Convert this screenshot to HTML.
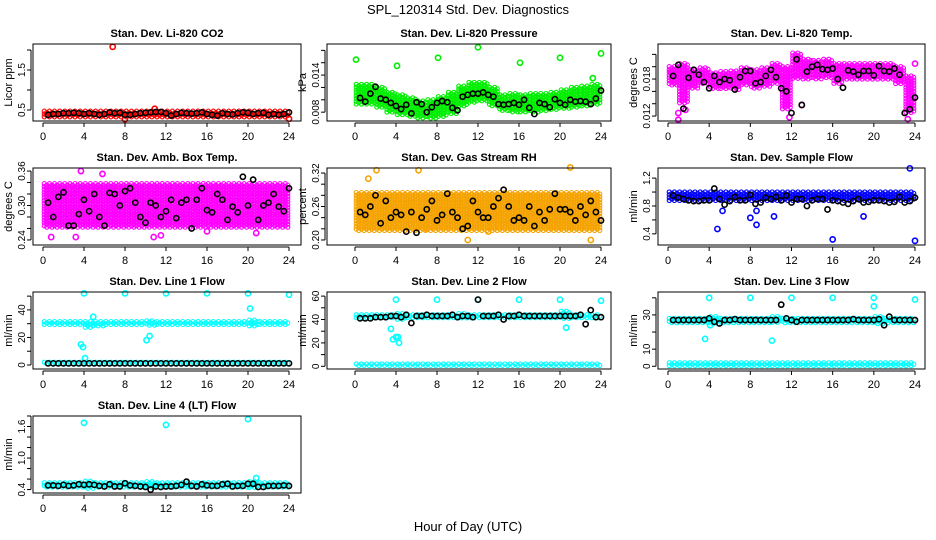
<!DOCTYPE html>
<html><head><meta charset="utf-8"><style>
body{margin:0;background:#fff}
svg{display:block;font-family:"Liberation Sans",Arial,sans-serif}
</style></head><body>
<svg id="chart" width="936" height="540" viewBox="0 0 936 540">
<text x="468" y="14" text-anchor="middle" font-size="13">SPL_120314  Std. Dev. Diagnostics</text>
<text x="468" y="531" text-anchor="middle" font-size="13">Hour of Day (UTC)</text>
</svg>
<script>
// ---------- data ----------
const hourTicks=[0,4,8,12,16,20,24];
const p1Lo=[.33,.33,.33,.33,.33,.33,.33,.33,.33,.33,.33,.33,.33,.33,.33,.33,.33,.33,.33,.33,.33,.33,.33,.33];
const p1Hi=[.47,.47,.47,.47,.47,.47,.47,.47,.47,.47,.47,.47,.47,.47,.47,.47,.47,.47,.47,.47,.47,.47,.47,.47];
const p1OutX=[6.8,10.9,8,24];
const p1OutY=[2.08,0.53,0.27,0.28];
const p1Black=[0.38,0.40,0.40,0.42,0.42,0.43,0.42,0.40,0.42,0.40,0.38,0.40,0.44,0.42,0.43,0.38,0.38,0.40,0.42,0.43,0.44,0.45,0.45,0.42,0.36,0.40,0.43,0.42,0.41,0.42,0.44,0.40,0.38,0.36,0.42,0.40,0.39,0.42,0.44,0.43,0.40,0.42,0.43,0.38,0.40,0.38,0.40,0.44];

const p2Lo=[.0093,.0092,.0088,.0080,.0075,.0072,.0070,.0070,.0073,.0078,.0090,.0096,.0098,.0090,.0082,.0080,.0080,.0080,.0082,.0084,.0086,.0088,.0090,.0092];
const p2Hi=[.0125,.0125,.0120,.0112,.0108,.0103,.0098,.0100,.0105,.0112,.0122,.0128,.0128,.0120,.0108,.0110,.0108,.0110,.0110,.0112,.0116,.0120,.0122,.0125];
const p2OutX=[0.1,4.1,8.1,12,16.1,20,23.2,24];
const p2OutY=[0.0165,0.0155,0.0168,0.0185,0.0160,0.0168,0.0135,0.0175];
const p2Black=[0.0103,0.0097,0.0110,0.0121,0.0102,0.0100,0.0095,0.0090,0.0085,0.0092,0.0078,0.0096,0.0093,0.0080,0.0088,0.0095,0.0098,0.0096,0.0087,0.0083,0.0105,0.0108,0.0110,0.0110,0.0112,0.0108,0.0105,0.0093,0.0092,0.0093,0.0095,0.0092,0.0100,0.0087,0.0077,0.0095,0.0093,0.0088,0.0101,0.0095,0.0092,0.0100,0.0097,0.0098,0.0097,0.0093,0.0102,0.0115];

const p3Lo=[.0170,.0140,.0165,.0172,.0165,.0163,.0162,.0170,.0165,.0168,.0172,.0130,.0180,.0178,.0180,.0182,.0172,.0178,.0178,.0180,.0180,.0180,.0172,.0125];
const p3Hi=[.0200,.0205,.0195,.0198,.0190,.0192,.0193,.0198,.0195,.0198,.0205,.0200,.0222,.0212,.0210,.0212,.0205,.0205,.0205,.0205,.0205,.0205,.0200,.0185];
const p3OutX=[1.0,1.0,1.7,11.8,13.0,24.0,0.3,23.3];
const p3OutY=[0.0114,0.0125,0.0130,0.0118,0.0138,0.0205,0.0192,0.0115];
const p3Black=[0.0185,0.0203,0.0132,0.0182,0.0195,0.0187,0.0175,0.0165,0.0185,0.0175,0.0180,0.0178,0.0163,0.0183,0.0193,0.0193,0.0173,0.0175,0.0185,0.0195,0.0183,0.0165,0.0160,0.0125,0.0212,0.0138,0.0192,0.0200,0.0203,0.0196,0.0195,0.0197,0.0180,0.0166,0.0194,0.0192,0.0187,0.0193,0.0193,0.0186,0.0201,0.0193,0.0192,0.0197,0.0187,0.0125,0.0131,0.0150];

const p4Lo=[.262,.262,.262,.262,.262,.262,.262,.262,.262,.262,.262,.262,.262,.262,.262,.262,.262,.262,.262,.262,.262,.262,.262,.262];
const p4Hi=[.338,.338,.338,.338,.338,.338,.338,.338,.338,.338,.338,.338,.338,.338,.338,.338,.338,.338,.338,.338,.338,.338,.338,.338];
const p4OutX=[0.8,3.2,3.7,5.8,10.8,11.5,16.0,20.8];
const p4OutY=[0.245,0.245,0.36,0.355,0.245,0.248,0.255,0.252];
const p4Black=[0.305,0.28,0.315,0.323,0.265,0.265,0.285,0.31,0.29,0.32,0.28,0.265,0.322,0.32,0.30,0.325,0.33,0.305,0.28,0.27,0.305,0.30,0.28,0.29,0.31,0.278,0.305,0.31,0.26,0.31,0.33,0.292,0.288,0.32,0.31,0.275,0.298,0.288,0.35,0.30,0.345,0.275,0.30,0.305,0.32,0.298,0.29,0.33];

const p5Lo=[.215,.215,.215,.215,.215,.215,.215,.215,.215,.215,.215,.215,.215,.215,.215,.215,.215,.215,.215,.215,.215,.215,.215,.215];
const p5Hi=[.285,.285,.285,.285,.285,.285,.285,.285,.285,.285,.285,.285,.285,.285,.285,.285,.285,.285,.285,.285,.285,.285,.285,.285];
const p5OutX=[1.3,2.1,6.2,11.0,13.0,21.0,23.0,7.0];
const p5OutY=[0.31,0.325,0.325,0.20,0.215,0.33,0.20,0.22];
const p5Black=[0.25,0.245,0.26,0.28,0.23,0.27,0.24,0.25,0.245,0.215,0.25,0.213,0.24,0.255,0.27,0.235,0.245,0.283,0.25,0.24,0.22,0.225,0.27,0.25,0.24,0.24,0.26,0.275,0.29,0.26,0.235,0.24,0.235,0.26,0.225,0.25,0.235,0.255,0.283,0.255,0.255,0.25,0.235,0.26,0.245,0.27,0.25,0.235];

const p6Lo=[.87,.87,.87,.87,.87,.87,.87,.87,.87,.87,.87,.87,.87,.87,.87,.87,.87,.87,.87,.87,.87,.87,.87,.87];
const p6Hi=[1.0,1.0,1.0,1.0,1.0,1.0,1.0,1.0,1.0,1.0,1.0,1.0,1.0,1.0,1.0,1.0,1.0,1.0,1.0,1.0,1.0,1.0,1.0,1.0];
const p6OutX=[4.8,5.3,8.0,8.6,8.6,10.3,16.0,19.0,23.5,24.0];
const p6OutY=[0.47,0.73,0.63,0.53,0.73,0.65,0.32,0.65,1.34,0.30];
const p6Black=[0.95,0.92,0.90,0.88,0.87,0.87,0.88,0.88,1.05,0.90,0.82,0.87,0.93,0.88,0.88,0.96,0.83,0.85,0.92,0.90,0.93,0.88,0.95,0.85,0.90,0.90,0.80,0.88,0.90,0.90,0.75,0.88,0.87,0.85,0.83,0.87,0.90,0.85,0.86,0.88,0.88,0.87,0.85,0.86,0.93,0.85,0.87,0.92];

const p7Lo=[28.5,28.5,28.5,28.5,27,28,28.5,28.5,28.5,28.5,28,28.5,28.5,28.5,28.5,28.5,28.5,28.5,28.5,28.5,27.5,28.5,28.5,28.5];
const p7Hi=[31.5,31.5,31.5,31.5,31.5,31.5,31.5,31.5,31.5,31.5,32,31.5,31.5,31.5,31.5,31.5,31.5,31.5,31.5,31.5,32.5,31.5,31.5,31.5];
const p7Lo2=[0,0,0,0,0,0,0,0,0,0,0,0,0,0,0,0,0,0,0,0,0,0,0,0];
const p7Hi2=[2,2,2,2,2,2,2,2,2,2,2,2,2,2,2,2,2,2,2,2,2,2,2,2];
const p7OutX=[4,8,12,16,20,24,3.7,3.9,4.1,10.1,10.4,20.2,4.9];
const p7OutY=[52,52,52,52,52,51,15,13,5,18,21,41,35];
const p7Black=[1.2,1.2,1.2,1.2,1.2,1.2,1.2,1.2,1.2,1.2,1.2,1.2,1.2,1.2,1.2,1.2,1.2,1.2,1.2,1.2,1.2,1.2,1.2,1.2,1.2,1.2,1.2,1.2,1.2,1.2,1.2,1.2,1.2,1.2,1.2,1.2,1.2,1.2,1.2,1.2,1.2,1.2,1.2,1.2,1.2,1.2,1.2,1.2];

const p8Lo=[41,41,41,41,40,41,41,41,41,41,41,41,41,41,41,41,41,41,41,41,40,41,41,41];
const p8Hi=[44,44,44,44,45,44,44,44,44,44,45,44,44,44,44,44,44,44,44,44,47,44,44,44];
const p8Lo2=[0,0,0,0,0,0,0,0,0,0,0,0,0,0,0,0,0,0,0,0,0,0,0,0];
const p8Hi2=[2,2,2,2,2,2,2,2,2,2,2,2,2,2,2,2,2,2,2,2,2,2,2,2];
const p8OutX=[4,8,12,16,20,24,3.5,3.7,4.0,4.3,4.2,20.6];
const p8OutY=[57,57,57,57,57,56,32,23,25,20,25,33];
const p8Black=[41,41,41,42,42,42,43,43,42,44,37,43,43,44,43,43,43,43,44,42,43,43,42,57,43,43,43,44,40,43,43,44,43,43,43,43,43,43,43,43,43,43,43,44,36,48,42,42];

const p9Lo=[25.5,25.5,25.5,25.5,24.5,25.5,25.5,25.5,25.5,25.5,25,25.5,25.5,25.5,25.5,25.5,25.5,25.5,25.5,25.5,24.5,25.5,25.5,25.5];
const p9Hi=[28,28,28,28,29,28,28,28,28,28,29,28,28,28,28,28,28,28,28,28,29,28,28,28];
const p9Lo2=[0,0,0,0,0,0,0,0,0,0,0,0,0,0,0,0,0,0,0,0,0,0,0,0];
const p9Hi2=[2,2,2,2,2,2,2,2,2,2,2,2,2,2,2,2,2,2,2,2,2,2,2,2];
const p9OutX=[4,8,12,16,20,24,3.6,10.1,20,4.1];
const p9OutY=[40,40,40,40,40,39,16,15,35,24];
const p9Black=[27,27,27,27,27,27,27,28,26,25,27,27,27.5,27,27,27,27,27,27,27,27,36,28,27,26,27,27,27,27,27,27,27,27,27,27,27.5,27,27,27,27,27.5,24,29,27,27,27,27,27];

const p10Lo=[.43,.43,.43,.43,.42,.43,.43,.43,.43,.43,.43,.43,.43,.43,.43,.43,.43,.43,.43,.43,.43,.43,.43,.43];
const p10Hi=[.53,.53,.53,.53,.56,.53,.53,.53,.53,.53,.55,.53,.53,.53,.53,.53,.53,.53,.53,.53,.55,.53,.53,.53];
const p10OutX=[4,12,20,20.8];
const p10OutY=[1.67,1.63,1.74,0.62];
const p10Black=[0.48,0.48,0.47,0.49,0.47,0.48,0.50,0.49,0.50,0.49,0.47,0.46,0.50,0.46,0.46,0.52,0.48,0.47,0.46,0.45,0.40,0.46,0.45,0.46,0.46,0.47,0.49,0.55,0.47,0.46,0.50,0.48,0.47,0.47,0.50,0.51,0.46,0.47,0.47,0.51,0.51,0.45,0.45,0.47,0.47,0.47,0.48,0.47];

const p1Ticks=[0.5,1,1.5,2], p1Labels=["0.5","","1.5",""];
const p2Ticks=[0.008,0.010,0.012,0.014,0.016,0.018], p2Labels=["0.008","","","0.014","",""];
const p3Ticks=[0.012,0.014,0.016,0.018,0.020,0.022], p3Labels=["0.012","","","0.018","",""];
const p4Ticks=[0.24,0.26,0.28,0.30,0.32,0.34,0.36], p4Labels=["0.24","","","0.30","","","0.36"];
const p5Ticks=[0.20,0.22,0.24,0.26,0.28,0.30,0.32], p5Labels=["0.20","","","0.26","","","0.32"];
const p6Ticks=[0.4,0.6,0.8,1.0,1.2], p6Labels=["0.4","","0.8","","1.2"];
const p7Ticks=[0,10,20,30,40,50], p7Labels=["0","","20","","40",""];
const p8Ticks=[0,10,20,30,40,50,60], p8Labels=["0","","20","","40","","60"];
const p9Ticks=[0,10,20,30,40], p9Labels=["0","10","","30",""];
const p10Ticks=[0.4,0.6,0.8,1.0,1.2,1.4,1.6,1.8], p10Labels=["0.4","","","1.0","","","1.6",""];

// ---------- layout ----------
const cols=[{bl:33,br:301,x0:43,x24:289},{bl:327,br:611,x0:355,x24:601},{bl:658,br:925,x0:668,x24:915}];
const panels=[
 {c:0,r:0,title:"Stan. Dev. Li-820 CO2",ylab:"Licor ppm",col:"#ff0000",yb:0.225,yt:2.15,lo:p1Lo,hi:p1Hi,ox:p1OutX,oy:p1OutY,bk:p1Black,tk:p1Ticks,tl:p1Labels},
 {c:1,r:0,title:"Stan. Dev. Li-820 Pressure",ylab:"kPa",col:"#00ee00",yb:0.00657,yt:0.01903,lo:p2Lo,hi:p2Hi,ox:p2OutX,oy:p2OutY,bk:p2Black,tk:p2Ticks,tl:p2Labels},
 {c:2,r:0,title:"Stan. Dev. Li-820 Temp.",ylab:"degrees C",col:"#ff00ff",yb:0.0112,yt:0.02368,lo:p3Lo,hi:p3Hi,ox:p3OutX,oy:p3OutY,bk:p3Black,tk:p3Ticks,tl:p3Labels},
 {c:0,r:1,title:"Stan. Dev. Amb. Box Temp.",ylab:"degrees C",col:"#ff00ff",yb:0.2312,yt:0.3653,lo:p4Lo,hi:p4Hi,ox:p4OutX,oy:p4OutY,bk:p4Black,tk:p4Ticks,tl:p4Labels},
 {c:1,r:1,title:"Stan. Dev. Gas Stream RH",ylab:"percent",col:"#f5a300",yb:0.191,yt:0.329,lo:p5Lo,hi:p5Hi,ox:p5OutX,oy:p5OutY,bk:p5Black,tk:p5Ticks,tl:p5Labels},
 {c:2,r:1,title:"Stan. Dev. Sample Flow",ylab:"ml/min",col:"#0000ff",yb:0.24,yt:1.345,lo:p6Lo,hi:p6Hi,ox:p6OutX,oy:p6OutY,bk:p6Black,tk:p6Ticks,tl:p6Labels},
 {c:0,r:2,title:"Stan. Dev. Line 1 Flow",ylab:"ml/min",col:"#00ffff",yb:-2.9,yt:53,lo:p7Lo,hi:p7Hi,lo2:p7Lo2,hi2:p7Hi2,ox:p7OutX,oy:p7OutY,bk:p7Black,tk:p7Ticks,tl:p7Labels},
 {c:1,r:2,title:"Stan. Dev. Line 2 Flow",ylab:"ml/min",col:"#00ffff",yb:-2.3,yt:63.5,lo:p8Lo,hi:p8Hi,lo2:p8Lo2,hi2:p8Hi2,ox:p8OutX,oy:p8OutY,bk:p8Black,tk:p8Ticks,tl:p8Labels},
 {c:2,r:2,title:"Stan. Dev. Line 3 Flow",ylab:"ml/min",col:"#00ffff",yb:-1.6,yt:43.4,lo:p9Lo,hi:p9Hi,lo2:p9Lo2,hi2:p9Hi2,ox:p9OutX,oy:p9OutY,bk:p9Black,tk:p9Ticks,tl:p9Labels},
 {c:0,r:3,title:"Stan. Dev. Line 4 (LT) Flow",ylab:"ml/min",col:"#00ffff",yb:0.335,yt:1.80,lo:p10Lo,hi:p10Hi,ox:p10OutX,oy:p10OutY,bk:p10Black,tk:p10Ticks,tl:p10Labels}
];
const svg=document.getElementById('chart');
const NS="http://www.w3.org/2000/svg";
function mk(tag,attrs,parent){const e=document.createElementNS(NS,tag);for(const k in attrs)e.setAttribute(k,attrs[k]);(parent||svg).appendChild(e);return e;}

panels.forEach((p,pi)=>{
  const C=cols[p.c];
  const top=44+124*p.r, bot=121+124*p.r;
  const xs=h=>C.x0+(C.x24-C.x0)*h/24;
  const ys=v=>bot-(v-p.yb)/(p.yt-p.yb)*(bot-top);
  const g=mk('g',{});
  
  
  const cx=(C.bl+C.br)/2;
  const t=mk('text',{x:cx,y:top-7,'text-anchor':'middle','font-size':11,'font-weight':'bold'},g);
  t.textContent=p.title;
  
  
  const yl=mk('text',{x:0,y:0,'text-anchor':'middle','font-size':11,transform:`translate(${C.bl-21},${(top+bot)/2}) rotate(-90)`},g);
  yl.textContent=p.ylab;
  
  
  // cloud
  const cg=mk('g',{fill:'none',stroke:p.col,'stroke-width':1.1},g);
  
  
  const bands=[[p.lo,p.hi]]; if(p.lo2) bands.push([p.lo2,p.hi2]);
  bands.forEach(([L,H])=>{
    for(let i=0;i<L.length;i++){
      const yA=ys(L[i]), yB=ys(H[i]);
      for(let sx=0;sx<4;sx++){
        const px=xs(i+sx*0.25+0.125);
        const off=(sx%2)*1.4;
        for(let py=yB+off;py<=yA+0.01;py+=2.8){
          mk('circle',{cx:px.toFixed(1),cy:py.toFixed(1),r:2.1},cg);
        }
      }
    }
  });
  p.ox.forEach((x,k)=>{
    const c=mk('circle',{cx:xs(x),cy:ys(p.oy[k]),r:2.6,'stroke-width':1.6},cg);
    
    
  });
  // black
  const bg=mk('g',{fill:'none',stroke:'#000','stroke-width':1.6},g);
  
  
  p.bk.forEach((v,k)=>{
    const c=mk('circle',{cx:xs(0.5*(k+1)),cy:ys(v),r:2.6},bg);
    
    
  });
  // box
  const b=mk('rect',{x:C.bl,y:top,width:C.br-C.bl,height:bot-top,fill:'none',stroke:'#000','stroke-width':1},g);
  
  
  // x axis
  const xa=mk('g',{'font-size':11},g);
  
  
  mk('line',{x1:xs(0),x2:xs(24),y1:bot+2,y2:bot+2,stroke:'#000'},xa);
  hourTicks.forEach(h=>{
    mk('line',{x1:xs(h),x2:xs(h),y1:bot+2,y2:bot+6,stroke:'#000'},xa);
    const tt=mk('text',{x:xs(h),y:bot+19,'text-anchor':'middle'},xa);
    tt.textContent=h;
  });
  // y axis
  const ya=mk('g',{'font-size':10},g);
  
  
  mk('line',{x1:C.bl-2,x2:C.bl-2,y1:ys(p.tk[0]),y2:ys(p.tk[p.tk.length-1]),stroke:'#000'},ya);
  p.tk.forEach((v,k)=>{
    mk('line',{x1:C.bl-2,x2:C.bl-6,y1:ys(v),y2:ys(v),stroke:'#000'},ya);
    if(p.tl[k]){
      const tt=mk('text',{x:0,y:0,'text-anchor':'middle',transform:`translate(${C.bl-8},${ys(v)}) rotate(-90)`},ya);
      tt.textContent=p.tl[k];
    }
  });
});
</script>
</body></html>
